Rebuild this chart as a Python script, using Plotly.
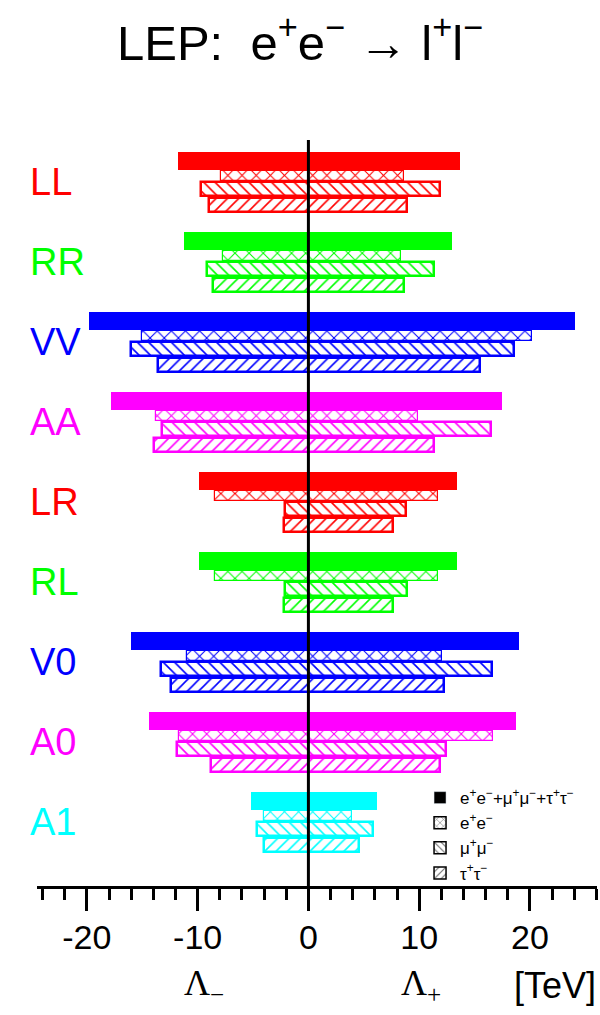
import plotly.graph_objects as go

channels = ["LL", "RR", "VV", "AA", "LR", "RL", "V0", "A0", "A1"]
colors = ["#ff0000", "#00ff00", "#0000ff", "#ff00ff", "#ff0000",
          "#00ff00", "#0000ff", "#ff00ff", "#00ffff"]

# limits in TeV: Lambda_- (left) and Lambda_+ (right)
comb_minus = [11.8, 11.2, 19.8, 17.8, 9.9, 9.9, 16.0, 14.4, 5.2]
comb_plus = [13.7, 13.0, 24.1, 17.5, 13.4, 13.4, 19.0, 18.7, 6.2]
ee_minus = [7.9, 7.7, 15.0, 13.8, 8.4, 8.4, 11.0, 11.7, 4.0]
ee_plus = [8.6, 8.4, 20.2, 9.9, 11.7, 11.7, 12.1, 16.7, 3.9]
mumu_minus = [9.7, 9.2, 16.0, 13.2, 2.1, 2.1, 13.3, 11.9, 4.6]
mumu_plus = [11.9, 11.3, 18.6, 16.5, 8.8, 8.9, 16.6, 12.4, 5.8]
tautau_minus = [9.0, 8.6, 13.6, 13.9, 2.2, 2.2, 12.4, 8.8, 4.0]
tautau_plus = [8.9, 8.6, 15.5, 11.3, 7.6, 7.6, 12.2, 11.9, 4.6]

tick_vals = [-20, -10, 0, 10, 20]
tick_text = ["-20", "-10", "0", "10", "20"]

legend_names = [
    "e<sup>+</sup>e<sup>−</sup>+μ<sup>+</sup>μ<sup>−</sup>+τ<sup>+</sup>τ<sup>−</sup>",
    "e<sup>+</sup>e<sup>−</sup>",
    "μ<sup>+</sup>μ<sup>−</sup>",
    "τ<sup>+</sup>τ<sup>−</sup>",
]

FONT = "Liberation Sans, Arial, sans-serif"
idx = list(range(len(channels)))

# (minus, plus, offset inside group, bar width, pattern, pattern size, outline width)
series = [
    (comb_minus, comb_plus, 0.1125, 0.225, "", 0, 0),
    (ee_minus, ee_plus, 0.294, 0.125, "x", 10, 1.2),
    (mumu_minus, mumu_plus, 0.4625, 0.175, "\\", 8, 2.5),
    (tautau_minus, tautau_plus, 0.6625, 0.175, "/", 8, 2.5),
]

fig = go.Figure()
for mn, pl, off, w, shape, psize, lw in series:
    ys = [i + off for i in idx]
    if shape == "":
        marker = dict(color=colors, line=dict(width=0))
    else:
        marker = dict(
            color="white",
            line=dict(color=colors, width=lw),
            pattern=dict(shape=shape, fgcolor=colors, bgcolor="white",
                         size=psize, solidity=0.2, fillmode="replace"),
        )
    fig.add_trace(go.Bar(
        y=ys, x=[a + b for a, b in zip(mn, pl)], base=[-a for a in mn],
        orientation="h", width=w, marker=marker, showlegend=False,
    ))

# legend entries (black swatches)
for k, (mn, pl, off, w, shape, psize, lw) in enumerate(series):
    if shape == "":
        marker = dict(color="black")
    else:
        marker = dict(color="white", line=dict(color="black", width=1.5),
                      pattern=dict(shape=shape, fgcolor="black", bgcolor="white",
                                   size=6, solidity=0.25))
    fig.add_trace(go.Bar(y=[None], x=[None], orientation="h", name=legend_names[k],
                         marker=marker, showlegend=True))

for i, ch in enumerate(channels):
    fig.add_annotation(x=-0.016, xref="paper", y=i + 0.38, yref="y",
                       text=ch, showarrow=False, xanchor="left",
                       font=dict(family=FONT, size=38, color=colors[i]))

fig.add_shape(type="line", x0=0, x1=0, xref="x", y0=0, y1=1, yref="paper",
              line=dict(color="black", width=3), layer="above")

fig.add_annotation(
    x=0.47, xref="paper", y=1.135, yref="paper", yanchor="middle",
    text="LEP:  e<sup>+</sup>e<sup>−</sup> → l<sup>+</sup>l<sup>−</sup>",
    showarrow=False, font=dict(family=FONT, size=49, color="black"))

for xv, txt, fam in [(-9.4, "Λ<sub>−</sub>", "Liberation Serif, serif"),
                     (10.2, "Λ<sub>+</sub>", "Liberation Serif, serif"),
                     (22.3, "[TeV]", FONT)]:
    fig.add_annotation(x=xv, xref="x", y=-0.133, yref="paper", yanchor="middle",
                       text=txt, showarrow=False,
                       font=dict(family=fam, size=36, color="black"))

fig.update_xaxes(
    range=[-24.5, 26.05], showline=True, linecolor="black", linewidth=3,
    ticks="outside", tickwidth=2.5, ticklen=22, tickcolor="black",
    tickmode="array", tickvals=tick_vals, ticktext=tick_text,
    showgrid=False, zeroline=False,
    minor=dict(ticks="outside", tickmode="linear", tick0=0, dtick=2, ticklen=11,
               tickwidth=2.5, tickcolor="black", showgrid=False),
    tickfont=dict(family=FONT, size=34, color="black"),
    ticklabelstandoff=-3,
)
fig.update_yaxes(range=[9.175, -0.15], visible=False, showgrid=False)

fig.update_layout(
    width=600, height=1015,
    margin=dict(l=37, r=3, t=140, b=129),
    plot_bgcolor="white", paper_bgcolor="white",
    barmode="overlay", bargap=0,
    legend=dict(x=0.684, y=0.142, xanchor="left", yanchor="top",
                font=dict(family=FONT, size=17, color="black"),
                bgcolor="rgba(0,0,0,0)", tracegroupgap=0,
                itemwidth=30, traceorder="normal"),
)

fig.write_html("out.html", config={"displayModeBar": False},
               post_script="document.body.style.margin='0';")
